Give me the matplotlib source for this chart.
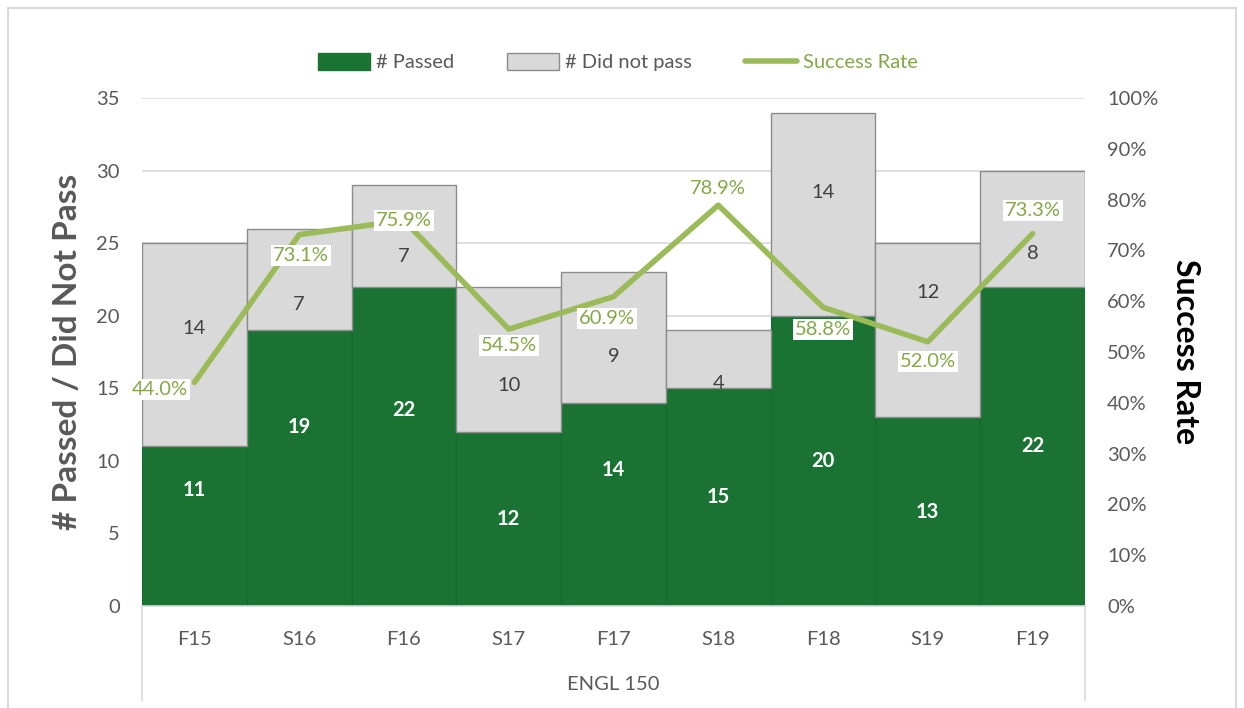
import matplotlib
matplotlib.use("Agg")
import matplotlib.pyplot as plt
from matplotlib.patches import Rectangle
from matplotlib.lines import Line2D
from matplotlib.patches import Patch

plt.rcParams['font.family'] = ['Lato', 'DejaVu Sans']

terms = ["F15", "S16", "F16", "S17", "F17", "S18", "F18", "S19", "F19"]
passed = [11, 19, 22, 12, 14, 15, 20, 13, 22]
not_passed = [14, 7, 7, 10, 9, 4, 14, 12, 8]
success_rate = [44.0, 73.1, 75.9, 54.5, 60.9, 78.9, 58.8, 52.0, 73.3]
course = "ENGL 150"

# label nudges (Excel labels were dragged around a bit)
pass_lbl_dy = [2.5, 2.8, 2.5, 0.0, 2.4, 0.0, 0.0, 0.0, 0.0]
fail_lbl_dy = [1.1, -1.7, -1.4, -1.8, -1.3, -1.7, 1.5, 2.6, -1.7]
rate_lbl_off = [(-25, -5), (1, -15), (0, 0), (0, -12), (-5, -16),
                (0, 12), (0, -16), (0, -14), (0, 17)]

GREEN = "#1A7333"
GRAY = "#D9D9D9"
LINE = "#9BBB59"
LBL_GREEN = "#84A848"
TXT = "#595959"
FS = 14.5

fig = plt.figure(figsize=(12.44, 7.08), dpi=100)
ax = fig.add_axes([142/1244, 1-606/708, (1085-142)/1244, (606-98)/708])
ax2 = ax.twinx()

x = list(range(len(terms)))
ax.bar(x, passed, width=1.0, color=GREEN, edgecolor="#16692E", linewidth=0.8, zorder=2)
ax.bar(x, not_passed, bottom=passed, width=1.0, color=GRAY, edgecolor="#8C8C8C",
       linewidth=1.0, zorder=2)

for i in x:
    ax.text(i, passed[i] / 2 + pass_lbl_dy[i], str(passed[i]), ha="center", va="center",
            color="white", fontsize=FS, fontweight="bold", zorder=4)
    ax.text(i, passed[i] + not_passed[i] / 2 + fail_lbl_dy[i], str(not_passed[i]),
            ha="center", va="center", color="#404040", fontsize=FS, zorder=4)

ax.set_xlim(-0.5, len(terms) - 0.5)
ax.set_ylim(0, 35)
ax.set_yticks(range(0, 36, 5))
ax.yaxis.grid(True, color="#D9D9D9", linewidth=1.2, zorder=0)
ax.set_axisbelow(True)
ax.set_xticks(x)
ax.set_xticklabels(terms)
ax.tick_params(axis="x", length=0, pad=18, labelsize=FS, labelcolor=TXT)
ax.tick_params(axis="y", length=0, pad=16, labelsize=FS, labelcolor=TXT)
for s in ["top", "right", "left"]:
    ax.spines[s].set_visible(False)
ax.spines["bottom"].set_color("#D9D9D9")
ax.spines["bottom"].set_linewidth(1.2)
ax.set_ylabel("# Passed / Did Not Pass", fontsize=24, fontweight="bold", color=TXT, labelpad=10)

ax2.plot(x, success_rate, color=LINE, linewidth=4, solid_capstyle="round", zorder=5)
for i in x:
    ax2.annotate(f"{success_rate[i]:.1f}%", (i, success_rate[i]), xytext=rate_lbl_off[i],
                 textcoords="offset points", ha="center", va="center", fontsize=FS,
                 color=LBL_GREEN, zorder=6,
                 bbox=dict(boxstyle="square,pad=0.1", fc="white", ec="none"))
ax2.set_ylim(0, 100)
ax2.set_yticks(range(0, 101, 10))
ax2.set_yticklabels([f"{v}%" for v in range(0, 101, 10)])
ax2.tick_params(axis="y", length=0, pad=16, labelsize=FS, labelcolor=TXT)
for s in ["top", "right", "left", "bottom"]:
    ax2.spines[s].set_visible(False)
ax2.set_ylabel("Success Rate", fontsize=23, fontweight="bold", color="black",
               rotation=-90, labelpad=30)

# multi-level category axis: group label and separators
for xv in (142/1244, 1085/1244):
    fig.add_artist(Line2D([xv, xv], [1-606/708, 1-700/708], color="#D9D9D9", linewidth=1.2))
fig.text((142 + 1085) / 2 / 1244, 1-685/708, course, ha="center", va="center",
         fontsize=FS, color=TXT)

# chart border
fig.add_artist(Rectangle((8/1244, -0.01), (1236-8)/1244, 1.01 - 8/708, fill=False,
                         ec="#D9D9D9", linewidth=1.5, transform=fig.transFigure))

handles = [Patch(fc=GREEN, ec=GREEN), Patch(fc=GRAY, ec="#8C8C8C"),
           Line2D([0], [0], color=LINE, linewidth=4, solid_capstyle="round")]
leg = fig.legend(handles, ["# Passed", "# Did not pass", "Success Rate"], ncol=3,
                 loc="center", bbox_to_anchor=(618/1244, 1-62/708), frameon=False,
                 fontsize=FS, handlelength=2.6, handleheight=0.9, columnspacing=2.6,
                 handletextpad=0.3)
for t, c in zip(leg.get_texts(), [TXT, TXT, LBL_GREEN]):
    t.set_color(c)

fig.savefig("out.png", dpi=100)
